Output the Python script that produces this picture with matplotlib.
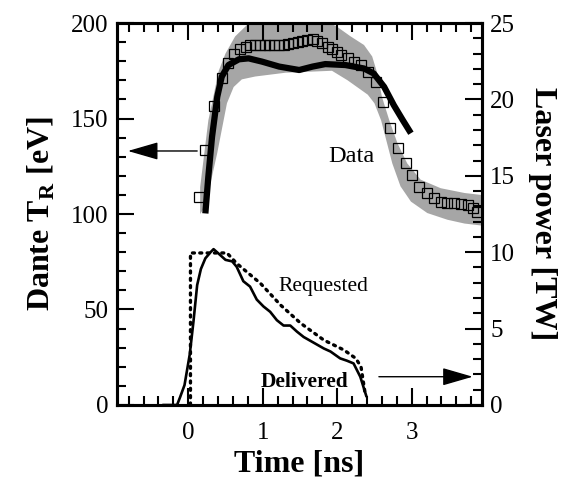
import numpy as np
import matplotlib
matplotlib.use('Agg')
import matplotlib.pyplot as plt
from matplotlib.ticker import MultipleLocator

plt.rcParams['font.family'] = 'Liberation Serif'
plt.rcParams['mathtext.fontset'] = 'custom'
plt.rcParams['mathtext.rm'] = 'Liberation Serif'
plt.rcParams['mathtext.bf'] = 'Liberation Serif:bold'

# Dante radiation temperature data (squares)
t_data = [0.15, 0.22, 0.35, 0.45, 0.54, 0.62, 0.70, 0.77, 0.83, 0.90, 0.97, 1.03,
          1.09, 1.15, 1.22, 1.28, 1.34, 1.40, 1.47, 1.53, 1.60, 1.67, 1.73, 1.80,
          1.87, 1.93, 2.00, 2.05, 2.14, 2.23, 2.32, 2.41, 2.52, 2.61, 2.71, 2.81,
          2.92, 3.01, 3.10, 3.21, 3.30, 3.39, 3.48, 3.57, 3.66, 3.75, 3.82, 3.88]
tr_data = [109, 133.5, 156.5, 171, 179, 184, 186.5, 187.5, 188.5, 188.5, 188.5, 188.5,
           188.5, 188.5, 188.5, 188.6, 188.8, 189.5, 190.2, 190.8, 191.3, 191.5, 190.8, 189.4,
           187.6, 186.2, 185, 183.3, 181.5, 179.8, 178, 174.5, 169.3, 158.8, 144.9, 134.4,
           126.5, 120.5, 114.4, 110.9, 108.3, 106.5, 105.7, 105.7, 105.3, 104.8, 103, 101.3]

# uncertainty band (upper / lower edges)
t_up = [0.16, 0.27, 0.41, 0.50, 0.63, 0.79, 1.2, 1.6, 2.0, 2.18, 2.36, 2.47, 2.54,
        2.60, 2.70, 2.81, 2.94, 3.12, 3.39, 3.71, 3.93]
tr_up = [114, 149, 175, 184, 193, 199, 206, 206, 198, 193, 188.5, 182.5, 173.5,
         161.5, 149, 137, 126.5, 118, 113.5, 111, 110]
t_lo = [0.16, 0.23, 0.39, 0.52, 0.61, 0.72, 0.90, 1.31, 1.93, 2.14, 2.41, 2.50, 2.59,
        2.66, 2.74, 2.85, 2.99, 3.21, 3.48, 3.71, 3.93]
tr_lo = [100, 104, 132, 158, 166.5, 170.5, 172, 174, 175, 170, 162.5, 158, 149,
         138.5, 126.5, 114.5, 106.5, 100.5, 97, 95, 94]

# simulated temperature (thick line)
t_sim = [0.23, 0.27, 0.32, 0.39, 0.45, 0.54, 0.68, 0.81, 0.99, 1.22, 1.49, 1.67,
         1.84, 2.11, 2.36, 2.49, 2.63, 2.76, 2.88, 2.99]
tr_sim = [100.3, 119.6, 140.5, 161.4, 171.9, 178, 181, 181.5, 179.8, 177.2, 175.4, 177.2,
          178.5, 178, 176.2, 173.6, 166.6, 157, 149.2, 142.3]

# laser power [TW]
t_del = [-0.33, -0.15, -0.11, -0.05, 0.02, 0.07, 0.12, 0.17, 0.23, 0.30, 0.34, 0.41,
         0.50, 0.59, 0.65, 0.74, 0.83, 0.92, 1.01, 1.10, 1.19, 1.28, 1.37, 1.46,
         1.55, 1.64, 1.73, 1.82, 1.91, 2.04, 2.13, 2.22, 2.31, 2.39]
p_del = [0, 0, 0.5, 1.3, 3.3, 5.45, 7.85, 8.9, 9.6, 10.0, 10.2, 9.9,
         9.5, 9.4, 9.05, 8.1, 7.75, 6.9, 6.45, 6.1, 5.55, 5.2, 5.2, 4.8,
         4.45, 4.2, 3.95, 3.7, 3.5, 3.05, 2.9, 2.72, 1.85, 0.6]
t_req = [0.03, 0.03, 0.52, 0.65, 0.97, 1.24, 1.51, 1.82, 2.09, 2.25, 2.32, 2.38]
p_req = [0, 9.95, 9.95, 9.27, 7.96, 6.54, 5.35, 4.25, 3.6, 3.05, 2.5, 0.6]

fig = plt.figure(figsize=(5.77, 4.90), dpi=100)
ax = fig.add_axes([0.2023, 0.1735, 0.6325, 0.7795])
ax2 = ax.twinx()

ax.fill(t_up + t_lo[::-1], tr_up + tr_lo[::-1], color='#a6a6a6', lw=0, zorder=1)
ax.plot(t_sim, tr_sim, color='black', lw=4.5, solid_capstyle='butt', zorder=3)
ax.plot(t_data, tr_data, ls='none', marker='s', ms=6.5, mfc='none', mec='black',
        mew=0.9, zorder=4)

ax2.plot(t_del, p_del, color='black', lw=1.9)
ax2.plot(t_req, p_req, color='black', lw=2.4, ls=(0, (0.6, 1.6)), dash_capstyle='round')

ax.set_xlim(-0.96, 3.94)
ax.set_ylim(0, 200)
ax2.set_ylim(0, 25)

ax.xaxis.set_major_locator(MultipleLocator(1))
ax.xaxis.set_minor_locator(MultipleLocator(0.2))
ax.yaxis.set_major_locator(MultipleLocator(50))
ax.yaxis.set_minor_locator(MultipleLocator(10))
ax2.yaxis.set_major_locator(MultipleLocator(5))
ax2.yaxis.set_minor_locator(MultipleLocator(1))

ax.tick_params(which='both', direction='in', top=True, right=False, labelsize=18, width=1.5)
ax.tick_params(which='major', length=12)
ax.tick_params(which='minor', length=6.5)
ax.tick_params(axis='x', pad=12)
ax.tick_params(axis='y', pad=6)
ax2.tick_params(which='both', direction='in', labelsize=18, width=1.5, pad=6)
ax2.tick_params(which='major', length=12)
ax2.tick_params(which='minor', length=6.5)
for a in (ax, ax2):
    for s in a.spines.values():
        s.set_linewidth(2.2)

ax.set_xlabel('Time [ns]', fontsize=23, fontweight='bold', labelpad=4)
ax.set_ylabel(r'Dante T$_\mathbf{R}$ [eV]', fontsize=23, fontweight='bold', labelpad=10)
ax2.set_ylabel('Laser power [TW]', fontsize=23, fontweight='bold', rotation=270,
               labelpad=30)

ax.text(2.19, 130, 'Data', fontsize=17.5, ha='center', va='center')
ax2.text(1.21, 7.75, 'Requested', fontsize=15.5, ha='left', va='center')
ax2.text(0.97, 1.5, 'Delivered', fontsize=15.5, fontweight='bold', ha='left', va='center')

arrow = dict(arrowstyle='-|>,head_length=1.9,head_width=0.55', color='black', lw=1,
             mutation_scale=10, shrinkA=0, shrinkB=0)
ax.annotate('', xy=(-0.81, 133), xytext=(0.12, 133), arrowprops=arrow)
ax2.annotate('', xy=(3.82, 1.85), xytext=(2.56, 1.85), arrowprops=arrow)

fig.savefig('out.png', dpi=100)
